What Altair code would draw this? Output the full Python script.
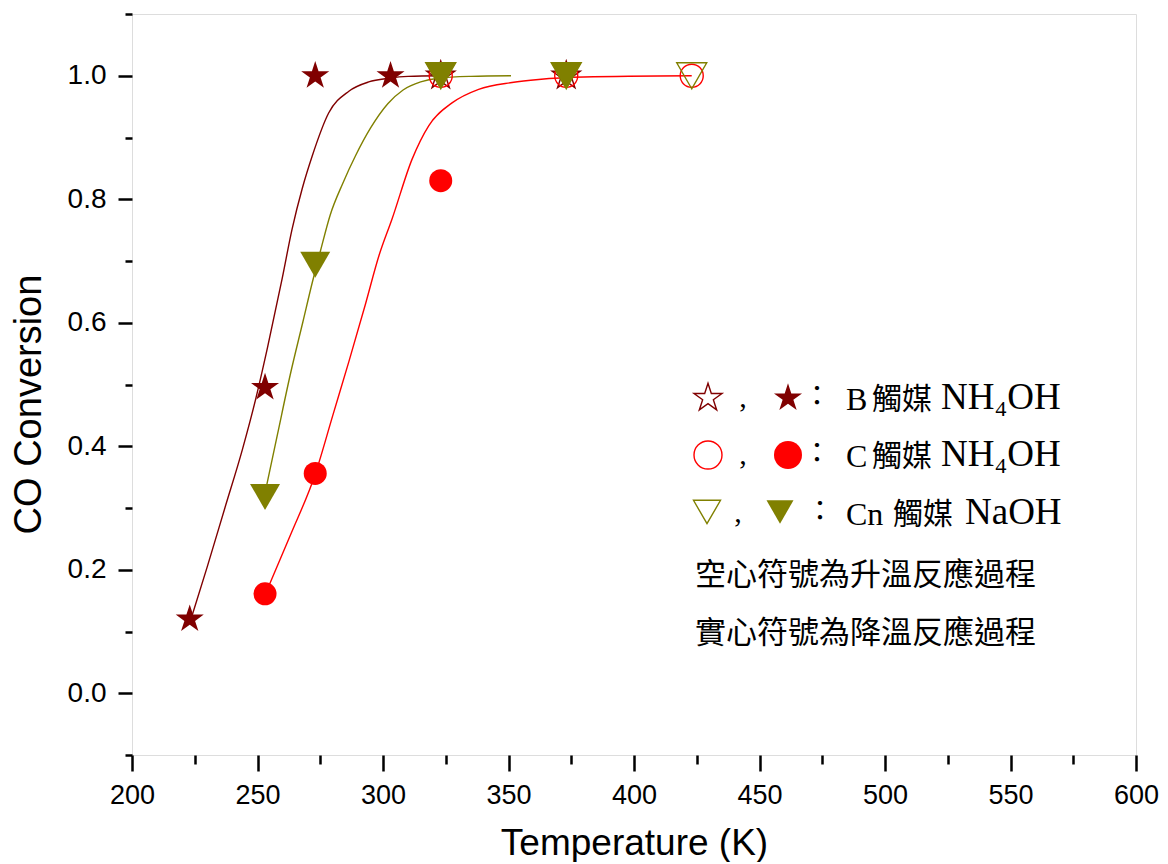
import altair as alt
import pandas as pd

# ---------------- data ----------------
# B catalyst (NH4OH) - stars
b_solid_t = [223, 253, 273, 303]
b_solid_v = [0.12, 0.495, 1.0, 1.0]
b_open_t = [323, 373]
b_open_v = [1.0, 1.0]
b_fit_t = [223.5, 230, 237, 244, 249.2, 254, 259.8, 263.8, 267.8, 271.8, 278.4, 286.4, 294.3, 302.3, 310, 323]
b_fit_v = [0.12, 0.205, 0.300, 0.395, 0.475, 0.56, 0.671, 0.752, 0.817, 0.870, 0.940, 0.975, 0.990, 0.996, 0.999, 1.0]

# C catalyst (NH4OH) - circles
c_solid_t = [253, 273, 323]
c_solid_v = [0.161, 0.356, 0.83]
c_open_t = [323, 373, 423]
c_open_v = [1.0, 1.0, 1.0]
c_fit_t = [253.2, 263, 273.1, 280, 286.4, 293, 298.5, 303.6, 311.6, 318.2, 327.5, 338.1, 351.4, 362, 380, 423]
c_fit_v = [0.161, 0.255, 0.356, 0.45, 0.537, 0.63, 0.71, 0.768, 0.865, 0.919, 0.956, 0.978, 0.989, 0.994, 0.998, 1.0]

# Cn catalyst (NaOH) - down triangles
cn_solid_t = [253, 273, 323, 373]
cn_solid_v = [0.318, 0.694, 1.0, 1.0]
cn_open_t = [323, 373, 423]
cn_open_v = [1.0, 1.0, 1.0]
cn_fit_t = [253.3, 258, 263, 268, 272, 275, 279, 284, 289, 295, 302, 308, 315, 322, 335, 351]
cn_fit_v = [0.33, 0.42, 0.515, 0.60, 0.668, 0.715, 0.775, 0.826, 0.870, 0.915, 0.955, 0.977, 0.990, 0.996, 0.999, 1.0]

# axis ticks
x_major = [200, 250, 300, 350, 400, 450, 500, 550, 600]
x_minor = [225, 275, 325, 375, 425, 475, 525, 575]
y_major = [0.0, 0.2, 0.4, 0.6, 0.8, 1.0]
y_minor = [-0.1, 0.1, 0.3, 0.5, 0.7, 0.9, 1.1]

# ---------------- styling ----------------
DARKRED = "#800000"
RED = "#ff0000"
OLIVE = "#808000"
SANS = "Liberation Sans"
SERIF = "Liberation Serif"
CJK = "Noto Sans CJK TC"
STAR = ("M0,-1L0.2245,-0.309L0.951,-0.309L0.363,0.118L0.588,0.809L0,0.382"
        "L-0.588,0.809L-0.363,0.118L-0.951,-0.309L-0.2245,-0.309Z")

xs = alt.Scale(domain=[200, 600], nice=False, zero=False)
ys = alt.Scale(domain=[-0.1, 1.1], nice=False, zero=False)


def df(t, v):
    return pd.DataFrame({"t": t, "v": v})


def enc(chart):
    return chart.encode(x=alt.X("t:Q", scale=xs, axis=None),
                        y=alt.Y("v:Q", scale=ys, axis=None))


x_axis_main = alt.Axis(values=x_major, format="d", orient="bottom",
                       labelFont=SANS, labelFontSize=27, labelColor="black",
                       labelPadding=11, labelFlush=False, labelOverlap=False,
                       tickSize=16, tickWidth=2.5, tickColor="black",
                       domain=False, grid=False,
                       title="Temperature (K)", titleFont=SANS, titleFontSize=37,
                       titleFontWeight="normal", titleColor="black",
                       titleY=99, titleBaseline="alphabetic")
y_axis_main = alt.Axis(values=y_major, format=".1f", orient="left",
                       labelFont=SANS, labelFontSize=28, labelColor="black",
                       labelPadding=12, labelFlush=False, labelOverlap=False,
                       tickSize=14, tickWidth=2.5, tickColor="black",
                       domain=False, grid=False,
                       title="CO Conversion", titleFont=SANS, titleFontSize=38,
                       titleFontWeight="normal", titleColor="black",
                       titleX=-103, titleY=390, titleAlign="center",
                       titleBaseline="middle", titleAngle=270)
x_axis_minor = alt.Axis(values=x_minor, orient="bottom", labels=False,
                        tickSize=9, tickWidth=2.5, tickColor="black",
                        domain=False, grid=False, title="")
y_axis_minor = alt.Axis(values=y_minor, orient="left", labels=False,
                        tickSize=7, tickWidth=2.5, tickColor="black",
                        domain=False, grid=False, title="")

# fitted curves
b_line = alt.Chart(df(b_fit_t, b_fit_v)).mark_line(
    color=DARKRED, strokeWidth=1.4, interpolate="monotone").encode(
    x=alt.X("t:Q", scale=xs, axis=x_axis_main),
    y=alt.Y("v:Q", scale=ys, axis=y_axis_main))
minor = alt.Chart(df([200], [0.0])).mark_point(opacity=0).encode(
    x=alt.X("t:Q", scale=xs, axis=x_axis_minor),
    y=alt.Y("v:Q", scale=ys, axis=y_axis_minor))
c_line = enc(alt.Chart(df(c_fit_t, c_fit_v)).mark_line(
    color=RED, strokeWidth=1.4, interpolate="monotone"))
cn_line = enc(alt.Chart(df(cn_fit_t, cn_fit_v)).mark_line(
    color=OLIVE, strokeWidth=1.4, interpolate="monotone"))

# markers
b_open = enc(alt.Chart(df(b_open_t, b_open_v)).mark_point(
    shape=STAR, size=870, filled=False, stroke=DARKRED, strokeWidth=1.4, opacity=1))
b_solid = enc(alt.Chart(df(b_solid_t, b_solid_v)).mark_point(
    shape=STAR, size=870, filled=True, color=DARKRED, opacity=1))
c_open = enc(alt.Chart(df(c_open_t, c_open_v)).mark_point(
    shape="circle", size=530, filled=False, stroke=RED, strokeWidth=1.4, opacity=1))
c_solid = enc(alt.Chart(df(c_solid_t, c_solid_v)).mark_point(
    shape="circle", size=530, filled=True, color=RED, opacity=1))
cn_open = enc(alt.Chart(df(cn_open_t, cn_open_v)).mark_point(
    shape="triangle-down", size=900, filled=False, stroke=OLIVE, strokeWidth=1.4, opacity=1))
cn_solid = enc(alt.Chart(df(cn_solid_t, cn_solid_v)).mark_point(
    shape="triangle-down", size=900, filled=True, color=OLIVE, opacity=1))

# ---------------- annotation block (legend) ----------------
one = pd.DataFrame({"k": [0]})


def sym(shape, x, y, size, color, filled):
    if filled:
        m = alt.Chart(one).mark_point(shape=shape, size=size, filled=True, color=color, opacity=1)
    else:
        m = alt.Chart(one).mark_point(shape=shape, size=size, filled=False, stroke=color,
                                      strokeWidth=1.4, opacity=1)
    return m.encode(x=alt.value(x), y=alt.value(y))


def txt(s, x, y, size, font, align="left"):
    return alt.Chart(one).mark_text(text=s, fontSize=size, font=font, align=align,
                                    baseline="middle", color="black").encode(
        x=alt.value(x), y=alt.value(y))


legend = [
    sym(STAR, 576, 384, 870, DARKRED, False),
    txt(",", 611, 384, 30, SERIF, "center"),
    sym(STAR, 656, 384, 870, DARKRED, True),
    txt("：", 685, 384, 28, CJK, "center"),
    txt("B", 714, 386, 32, SERIF),
    txt("觸媒", 740, 386, 30, CJK),
    txt("NH₄OH", 809, 384, 37, SERIF),

    sym("circle", 576, 441, 784, RED, False),
    txt(",", 611, 441, 30, SERIF, "center"),
    sym("circle", 656, 441, 784, RED, True),
    txt("：", 685, 441, 28, CJK, "center"),
    txt("C", 714, 443, 32, SERIF),
    txt("觸媒", 740, 443, 30, CJK),
    txt("NH₄OH", 809, 441, 37, SERIF),

    sym("triangle-down", 575, 498, 730, OLIVE, False),
    txt(",", 606, 499, 30, SERIF, "center"),
    sym("triangle-down", 648, 498, 730, OLIVE, True),
    txt("：", 688, 499, 28, CJK, "center"),
    txt("Cn", 714, 501, 32, SERIF),
    txt("觸媒", 761, 501, 30, CJK),
    txt("NaOH", 833, 499, 37, SERIF),

    txt("空心符號為升溫反應過程", 563, 562, 31, CJK),
    txt("實心符號為降溫反應過程", 563, 620, 31, CJK),
]

chart = alt.layer(
    b_line, minor, cn_line, c_line,
    b_open, b_solid, c_open, c_solid, cn_open, cn_solid,
    *legend
).resolve_axis(x="independent", y="independent").properties(
    width=1004, height=741,
    autosize=alt.AutoSizeParams(type="none"),
    padding={"left": 124, "top": 6, "right": 24, "bottom": 107},
).configure_view(stroke="black", strokeWidth=2.5).configure(background="white")

chart.save("out.html", embed_options={"renderer": "svg", "actions": False})
